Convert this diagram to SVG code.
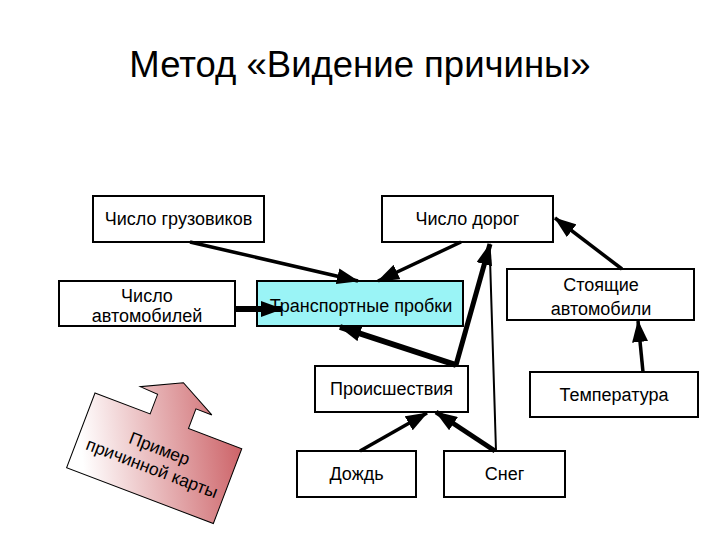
<svg xmlns="http://www.w3.org/2000/svg" width="720" height="540" viewBox="0 0 720 540">
  <style>
    .box { fill: #ffffff; stroke: #000000; stroke-width: 2; }
    .hot { fill: #9af4f6; }
    .t { font-family: "Liberation Sans", Arial, sans-serif; font-size: 18px; fill: #000; text-anchor: middle; }
    .title { font-family: "Liberation Sans", Arial, sans-serif; font-size: 36.5px; fill: #000; text-anchor: middle; }
    .c { fill: none; stroke: #000; marker-end: url(#ah); }
    .note { font-family: "Liberation Sans", Arial, sans-serif; font-size: 17.5px; fill: #000; text-anchor: middle; }
  </style>
  <defs>
    <marker id="ah" viewBox="0 0 22 16" refX="21" refY="8" markerWidth="22" markerHeight="16" markerUnits="userSpaceOnUse" orient="auto">
      <path d="M0,0 L22,8 L0,16 z" fill="#000"/>
    </marker>
    <linearGradient id="grad" x1="0" y1="0.7" x2="1" y2="0.3">
      <stop offset="0" stop-color="#ffffff"/>
      <stop offset="1" stop-color="#cc6166"/>
    </linearGradient>
  </defs>
  <rect width="720" height="540" fill="#ffffff"/>

  <text class="title" x="360" y="77">Метод «Видение причины»</text>

  <g id="n-gruzoviki">
    <rect class="box" x="93" y="196" width="171" height="46"/>
    <text class="t" x="178.5" y="225">Число грузовиков</text>
  </g>
  <g id="n-dorogi">
    <rect class="box" x="382" y="196" width="171" height="46"/>
    <text class="t" x="467.5" y="225">Число дорог</text>
  </g>
  <g id="n-avtomobili">
    <rect class="box" x="59" y="281" width="176" height="45"/>
    <text class="t" x="147" y="302">Число</text>
    <text class="t" x="147" y="322">автомобилей</text>
  </g>
  <g id="n-probki">
    <rect class="box hot" x="257" y="281" width="206" height="45"/>
    <text class="t" x="361" y="312">Транспортные пробки</text>
  </g>
  <g id="n-stoyashchie">
    <rect class="box" x="507" y="269" width="187" height="51"/>
    <text class="t" x="601" y="291">Стоящие</text>
    <text class="t" x="601" y="315">автомобили</text>
  </g>
  <g id="n-proisshestviya">
    <rect class="box" x="315" y="366" width="153" height="46"/>
    <text class="t" x="391.5" y="395">Происшествия</text>
  </g>
  <g id="n-temperatura">
    <rect class="box" x="530" y="372" width="168" height="45"/>
    <text class="t" x="614" y="401">Температура</text>
  </g>
  <g id="n-dozhd">
    <rect class="box" x="297" y="451" width="119" height="46"/>
    <text class="t" x="356.5" y="480">Дождь</text>
  </g>
  <g id="n-sneg">
    <rect class="box" x="444" y="451" width="121" height="46"/>
    <text class="t" x="504.5" y="480">Снег</text>
  </g>

  <g id="connectors">
    <line class="c" x1="190" y1="242" x2="358" y2="281" stroke-width="3.5"/>
    <line class="c" x1="461" y1="242" x2="378" y2="281" stroke-width="3.5"/>
    <line class="c" x1="235" y1="309" x2="282" y2="309" stroke-width="6"/>
    <line class="c" x1="456" y1="365" x2="340" y2="327" stroke-width="6"/>
    <line class="c" x1="456" y1="365" x2="490" y2="244" stroke-width="5"/>
    <line x1="496" y1="451" x2="490" y2="258" stroke="#000" stroke-width="2"/>
    <line class="c" x1="360" y1="451" x2="427" y2="413" stroke-width="3.5"/>
    <line class="c" x1="495" y1="451" x2="436" y2="412" stroke-width="5"/>
    <line class="c" x1="622" y1="269" x2="555" y2="218" stroke-width="3.5"/>
    <line class="c" x1="643" y1="372" x2="638" y2="321" stroke-width="3.5"/>
  </g>

  <g id="callout" transform="translate(95,393) rotate(20.8)">
    <path d="M0,0 L59,0 L59,-21 L40,-22 L79,-41 L117,-21 L100,-21 L100,0 L157,0 L157,80 L0,80 z" fill="url(#grad)" stroke="#000" stroke-width="1"/>
    <text class="note" x="80" y="35">Пример</text>
    <text class="note" x="80" y="56">причинной карты</text>
  </g>
</svg>
